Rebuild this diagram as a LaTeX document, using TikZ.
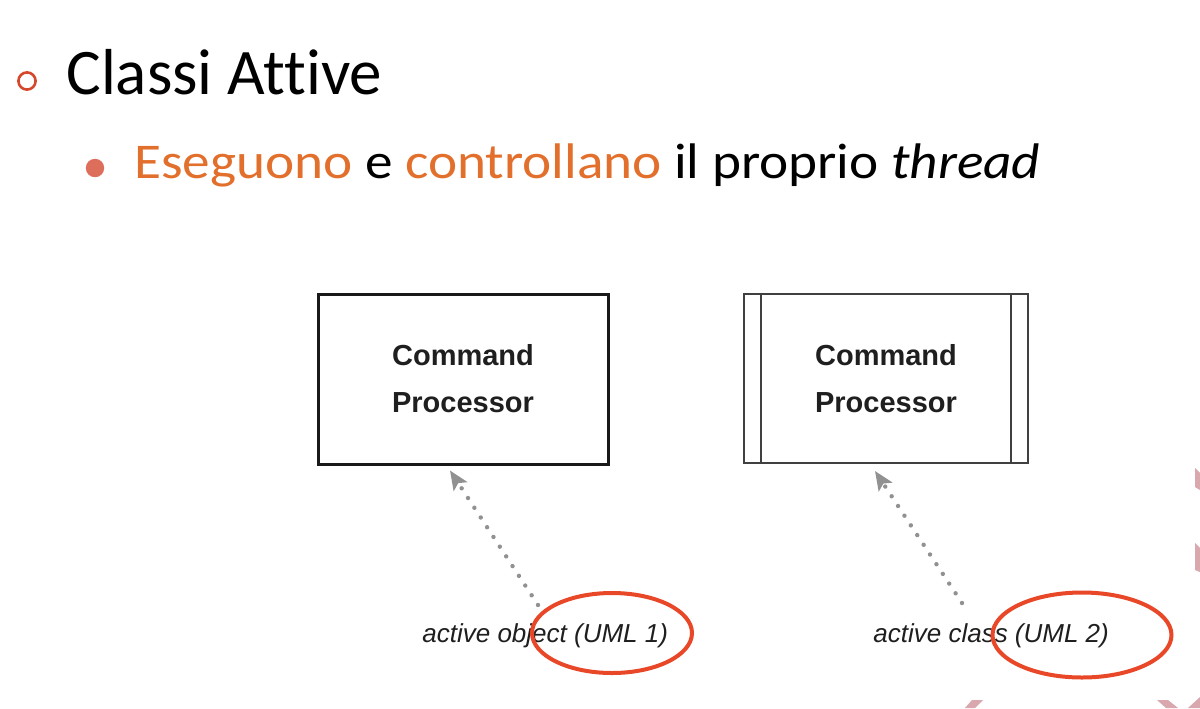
\documentclass[tikz,border=0pt]{standalone}
\usepackage{fontspec}
\setmainfont[Ligatures=NoCommon]{Carlito}
\newfontfamily\widefont[Ligatures=NoCommon,FakeStretch=1.105]{Carlito}
\newfontfamily\boxfont{Liberation Sans}
\usetikzlibrary{arrows.meta,shapes.geometric,calc}
\definecolor{accent}{RGB}{226,112,44}
\definecolor{bulletred}{RGB}{214,72,44}
\definecolor{bulletdot}{RGB}{222,110,92}
\definecolor{markred}{RGB}{232,72,40}
\definecolor{deco}{RGB}{216,168,174}
\definecolor{dotgray}{RGB}{145,145,145}
\tikzset{
  heading/.style={anchor=base west, inner sep=0pt, font=\fontsize{32.5}{40}\selectfont},
  subheading/.style={anchor=base west, inner sep=0pt, font=\widefont\fontsize{25}{30}\selectfont},
  objbox/.style={draw=black!90, line width=1.5pt, inner sep=0pt, minimum width=145pt,
    minimum height=85pt, align=center, text=black!88,
    font=\boxfont\bfseries\fontsize{14.5}{23.5}\selectfont},
  clsbox/.style={objbox, draw=black!75, line width=1pt, minimum width=142pt, minimum height=84.5pt},
  clsbar/.style={draw=black!75, line width=1pt},
  dep/.style={dotgray, line width=2.2pt, line cap=round, dash pattern=on 0.01pt off 5.8pt,
    -{Stealth[length=9.5pt,width=8pt,inset=2pt,line cap=butt]}},
  lbl/.style={anchor=base west, inner sep=0pt, text=black!88,
    font=\boxfont\itshape\fontsize{13}{15}\selectfont},
  ring/.style={draw=markred, line width=2pt, ellipse, inner sep=0pt}
}
\begin{document}
\begin{tikzpicture}[x=0.5pt,y=-0.5pt]
\useasboundingbox (0,0) rectangle (1200,708);
\fill[white] (0,0) rectangle (1200,708);

% slide theme decorations along the edges
\fill[deco] (1195,468) -- (1200,473) -- (1200,490) -- (1195,487) -- cycle;
\fill[deco] (1195,543) -- (1200,548) -- (1200,572) -- (1195,570) -- cycle;
\fill[deco] (972,700) -- (983,700) -- (975,708) -- (965,708) -- cycle;
\fill[deco] (1157,700) -- (1168,700) -- (1178,708) -- (1166,708) -- cycle;
\fill[deco] (1188,708) -- (1200,697) -- (1200,708) -- cycle;

% headings
\draw[bulletred, line width=1.3pt] (27,81) circle (4.3pt);
\node[heading] (title) at (66,94) {Classi Attive};
\fill[bulletdot] (95,168) circle (4.6pt);
\node[subheading] (sub) at (134,178)
  {\textcolor{accent}{Eseguono} e \textcolor{accent}{controllano} il proprio \textit{thread}};

% active object (UML 1)
\node[objbox] (obj) at (463,379) {Command\\Processor};
% active class (UML 2)
\node[clsbox] (cls) at (886,378.5) {Command\\Processor};
\draw[clsbar] ($(cls.north west)+(9pt,0)$) -- ($(cls.south west)+(9pt,0)$);
\draw[clsbar] ($(cls.north east)+(-9pt,0)$) -- ($(cls.south east)+(-9pt,0)$);

% labels
\node[lbl] (lobj) at (422,642) {active object (UML 1)};
\node[lbl] (lcls) at (873,642) {active class (UML 2)};

% dependency arrows
\coordinate (objtail) at (538,605);
\coordinate (clstail) at (962,603);
\draw[dep] (objtail) -- ([shift={(-6.5pt,-2.5pt)}]obj.south);
\draw[dep] (clstail) -- ([shift={(-5.5pt,-3.5pt)}]cls.south);

% highlight rings
\node[ring, minimum width=80pt, minimum height=40pt] (r1) at (612,633) {};
\node[ring, minimum width=89.5pt, minimum height=42.5pt] (r2) at (1082,635) {};
\end{tikzpicture}
\end{document}
